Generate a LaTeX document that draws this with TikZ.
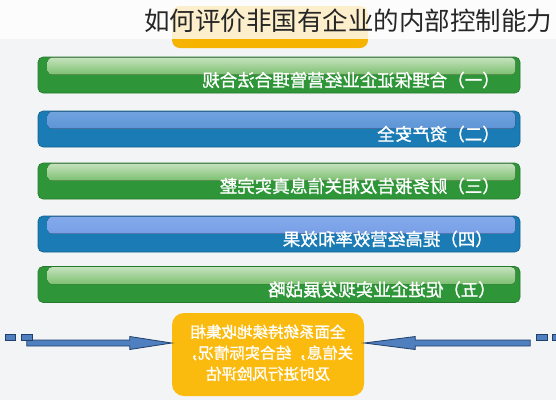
\documentclass[tikz,border=0pt]{standalone}
\usepackage{fontspec}
\usepackage{graphicx}
\newfontfamily\cjk{Noto Sans CJK SC}
\newfontfamily\cjkb[FakeBold=1.2]{Noto Sans CJK SC}
\definecolor{bgcol}{HTML}{F3F4F5}
\definecolor{gold}{HTML}{FBBA0E}
\definecolor{goldtop}{HTML}{F6B300}
\definecolor{gmain}{HTML}{2E9638}
\definecolor{gdark}{HTML}{237A2B}
\definecolor{gglt}{HTML}{C4E2BC}
\definecolor{ggld}{HTML}{7CC070}
\definecolor{bmain}{HTML}{1A7BB5}
\definecolor{bdark}{HTML}{14628F}
\definecolor{bglt}{HTML}{6FA2DE}
\definecolor{bgld}{HTML}{5E95D6}
\definecolor{b4glt}{HTML}{84AAEC}
\definecolor{b4gld}{HTML}{789FE6}
\definecolor{arrfill}{HTML}{4F7FBE}
\definecolor{arrline}{HTML}{203F6A}
\definecolor{titlecol}{HTML}{262626}
\tikzset{
  barbox/.style={draw=#1dark, fill=#1main, line width=0.6pt, rounded corners=5pt,
    minimum width=482pt, minimum height=36pt, inner sep=0pt},
  gloss/.style 2 args={top color=#1, bottom color=#2, draw=none, rounded corners=4pt},
  bartext/.style={anchor=east, text=white, font=\cjkb\fontsize{17.5}{17.5}\selectfont, inner sep=0pt},
  arr/.style={fill=arrfill, draw=arrline, line width=0.8pt, line join=miter},
}
\newcommand{\mirr}[1]{\scalebox{-1}[1]{#1}}
\begin{document}
\begin{tikzpicture}[x=1pt,y=-1pt]
\useasboundingbox (0,0) rectangle (556,400);
\fill[bgcol] (0,0) rectangle (556,400);
% top yellow box (half hidden) and white band
\fill[goldtop, rounded corners=8pt] (172,6) rectangle (368,48);
\fill[white, opacity=0.8] (0,0) rectangle (556,39);
\node[anchor=west, inner sep=0pt, text=titlecol, font=\cjk\fontsize{25.5}{25.5}\selectfont] (title) at (144,21) {如何评价非国有企业的内部控制能力};
% bars
\node[barbox=g] (b1) at (279,75) {};
\node[barbox=b] (b2) at (279,129) {};
\node[barbox=g] (b3) at (279,181) {};
\node[barbox=b] (b4) at (279,234) {};
\node[barbox=g] (b5) at (279,284.5) {};
\fill[gloss={gglt}{ggld}] ([xshift=10pt,yshift=-1pt]b1.north west) rectangle ([xshift=-5pt,yshift=-18pt]b1.north east);
\fill[gloss={bglt}{bgld}] ([xshift=10pt,yshift=-1pt]b2.north west) rectangle ([xshift=-5pt,yshift=-18pt]b2.north east);
\fill[gloss={gglt}{ggld}] ([xshift=10pt,yshift=-1pt]b3.north west) rectangle ([xshift=-5pt,yshift=-18pt]b3.north east);
\fill[gloss={b4glt}{b4gld}] ([xshift=10pt,yshift=-1pt]b4.north west) rectangle ([xshift=-5pt,yshift=-18pt]b4.north east);
\fill[gloss={gglt}{ggld}] ([xshift=10pt,yshift=-1pt]b5.north west) rectangle ([xshift=-5pt,yshift=-18pt]b5.north east);
\node[bartext] (t1) at (500,80) {\mirr{（一）合理保证企业经营管理合法合规}};
\node[bartext] (t2) at (500,134) {\mirr{（二）资产安全}};
\node[bartext] (t3) at (500,186) {\mirr{（三）财务报告及相关信息真实完整}};
\node[bartext] (t4) at (493,239) {\mirr{（四）提高经营效率和效果}};
\node[bartext] (t5) at (496,289.5) {\mirr{（五）促进企业实现发展战略}};
% bottom box
\node[fill=gold, rounded corners=12pt, minimum width=192pt, minimum height=83pt, inner sep=0pt,
  text=white, font=\cjkb\fontsize{15.5}{21}\selectfont] (ybox) at (268,354.5)
  {\mirr{\begin{tabular}{@{}c@{}}全面系统持续地收集相\\关信息，结合实际情况，\\及时进行风险评估\end{tabular}}};
\coordinate (ltip) at ([yshift=11.5pt]ybox.west);
\coordinate (rtip) at ([yshift=11.5pt]ybox.east);
% left arrow
\draw[arr] (ltip) -- ++(-42,-6.5) -- ++(0,3.5) -- ++(-103,0) -- ++(0,6) -- ++(103,0) -- ++(0,3.5) -- cycle;
\draw[arr] ([xshift=-150pt,yshift=3pt]ltip) rectangle ++(11,-6);
\draw[arr] ([xshift=-166pt,yshift=3pt]ltip) rectangle ++(10,-6);
% right arrow
\draw[arr] (rtip) -- ++(51,-6.5) -- ++(0,3.5) -- ++(115,0) -- ++(0,6) -- ++(-115,0) -- ++(0,3.5) -- cycle;
\draw[arr] ([xshift=172pt,yshift=3pt]rtip) rectangle ++(11,-6);
\draw[arr] ([xshift=188pt,yshift=3pt]rtip) rectangle ++(10,-6);
\end{tikzpicture}
\end{document}
